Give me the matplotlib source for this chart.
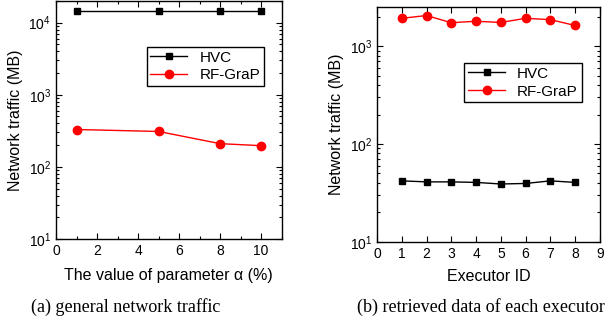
import numpy as np
import matplotlib.pyplot as plt
from matplotlib.ticker import MultipleLocator, LogLocator, NullFormatter

plt.rcParams['font.family'] = ['Liberation Sans', 'DejaVu Sans']
plt.rcParams['mathtext.fontset'] = 'custom'
plt.rcParams['mathtext.rm'] = 'Liberation Sans'

# (a) general network traffic
alpha = [1, 5, 8, 10]
hvc_a = [14500, 14500, 14500, 14500]
rfgrap_a = [330, 310, 210, 197]

# (b) retrieved data of each executor
executor = [1, 2, 3, 4, 5, 6, 7, 8]
hvc_b = [42, 41, 41, 40.5, 39, 39.5, 42, 40.5]
rfgrap_b = [1930, 2060, 1740, 1800, 1750, 1930, 1870, 1630]

fig = plt.figure(figsize=(6.14, 3.25), dpi=100)
ax1 = fig.add_axes([0.0912, 0.2646, 0.3676, 0.7324])
ax2 = fig.add_axes([0.614, 0.256, 0.363, 0.7215])


def estilo(ax):
    ax.set_yscale('log')
    ax.yaxis.set_major_locator(LogLocator(base=10))
    ax.yaxis.set_minor_locator(LogLocator(base=10, subs=np.arange(2, 10)))
    ax.yaxis.set_minor_formatter(NullFormatter())
    ax.tick_params(which='both', direction='in', top=True, right=True,
                   labelsize=10, width=0.8)
    ax.tick_params(which='major', length=4)
    ax.tick_params(which='minor', length=2.5)
    for s in ax.spines.values():
        s.set_linewidth(1.0)
    ax.set_ylabel('Network traffic (MB)', fontsize=11.5)


# Gráfica (a)
ax1.plot(alpha, hvc_a, color='black', marker='s', markersize=5, lw=1, label='HVC')
ax1.plot(alpha, rfgrap_a, color='red', marker='o', markersize=6, lw=1, label='RF-GraP')
estilo(ax1)
ax1.set_xlim(0, 11)
ax1.set_ylim(10, 2e4)
ax1.xaxis.set_major_locator(MultipleLocator(2))
ax1.xaxis.set_minor_locator(MultipleLocator(1))
ax1.set_xlabel('The value of parameter α (%)', fontsize=11.5, labelpad=7)
ax1.legend(loc='upper right', bbox_to_anchor=(0.955, 0.84), fontsize=11,
           fancybox=False, edgecolor='black', framealpha=1,
           handlelength=2.4, borderpad=0.25, labelspacing=0.25)

# Gráfica (b)
ax2.plot(executor, hvc_b, color='black', marker='s', markersize=5, lw=1, label='HVC')
ax2.plot(executor, rfgrap_b, color='red', marker='o', markersize=6, lw=1, label='RF-GraP')
estilo(ax2)
ax2.set_xlim(0, 9)
ax2.set_ylim(10, 2500)
ax2.xaxis.set_major_locator(MultipleLocator(1))
ax2.set_xlabel('Executor ID', fontsize=11.5, labelpad=6)
ax2.legend(loc='upper right', bbox_to_anchor=(0.953, 0.795), fontsize=11,
           fancybox=False, edgecolor='black', framealpha=1,
           handlelength=2.4, borderpad=0.25, labelspacing=0.25)

fig.text(0.204, 0.04, '(a) general network traffic', ha='center',
         fontsize=13, family='Liberation Serif')
fig.text(0.784, 0.04, '(b) retrieved data of each executor', ha='center',
         fontsize=13, family='Liberation Serif')

fig.savefig('out.png', dpi=100)
